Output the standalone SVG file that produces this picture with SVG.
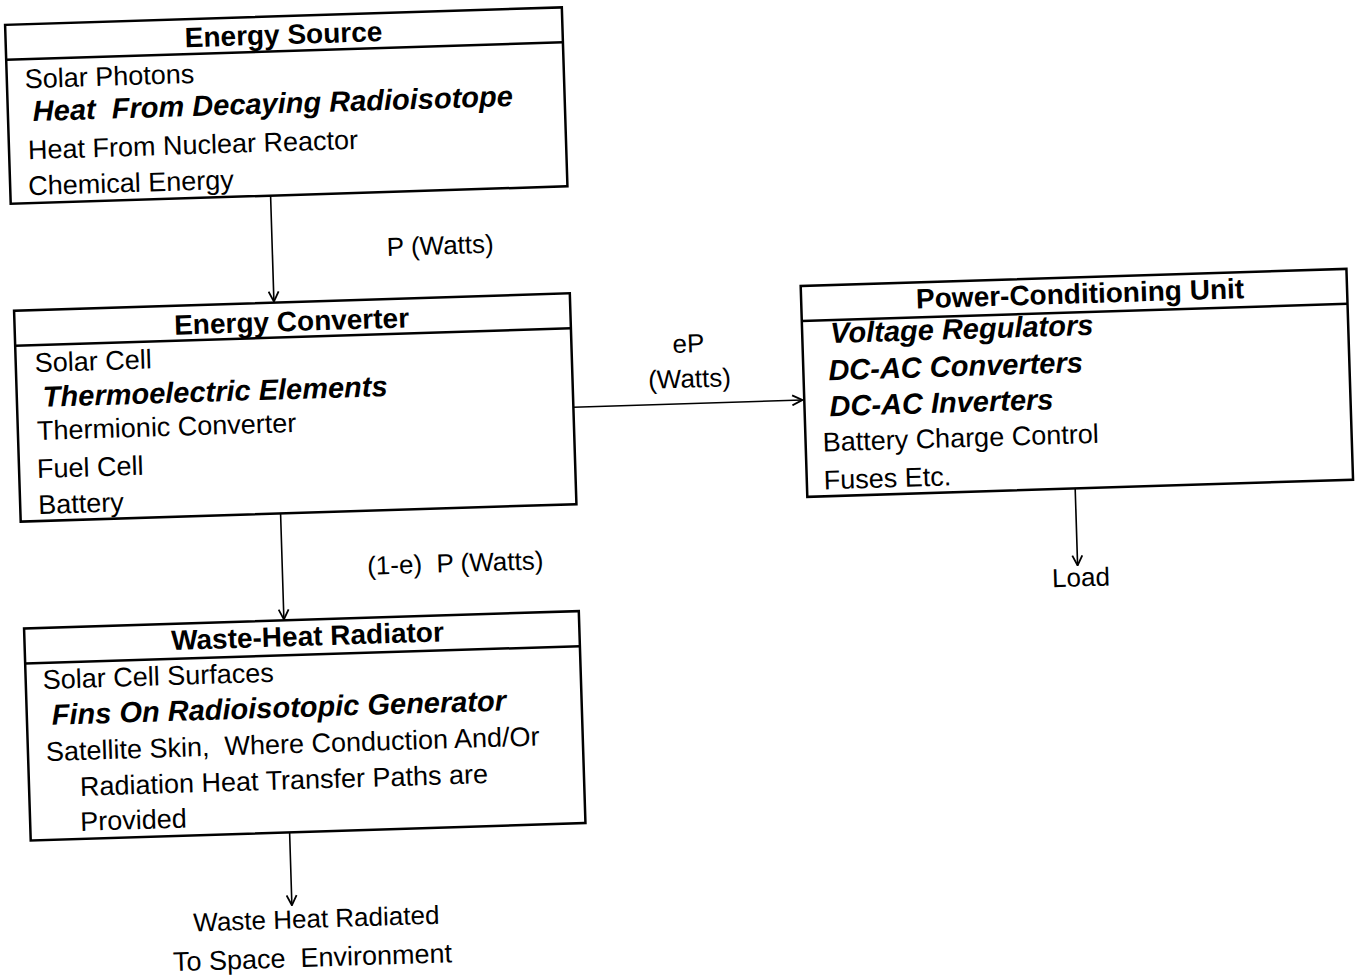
<svg xmlns="http://www.w3.org/2000/svg" width="1355" height="978" viewBox="0 0 1355 978">
<defs>
<style>
.box{fill:#fff;stroke:#000;stroke-width:2.5}
.dv{stroke:#000;stroke-width:2.5}
.t{font-family:"Liberation Sans",Arial,sans-serif;font-size:27px;fill:#000}
.h{font-weight:bold;font-size:28px;text-anchor:middle}
.bi{font-weight:bold;font-style:italic;font-size:29px}
.lb{font-size:26px}
.c{stroke:#000;stroke-width:1.6;fill:none;marker-end:url(#arr)}
</style>
<marker id="arr" viewBox="0 0 12 12" refX="11" refY="6" markerWidth="12" markerHeight="12" markerUnits="userSpaceOnUse" orient="auto">
<path d="M1,1 L11,6 L1,11" fill="none" stroke="#000" stroke-width="1.8"/>
</marker>
</defs>
<rect width="1355" height="978" fill="#fff"/>
<g transform="rotate(-1.8 677 489)">
<g id="connectors">
<line class="c" x1="280" y1="183" x2="280" y2="289"/>
<line class="c" x1="576" y1="404" x2="805" y2="404"/>
<line class="c" x1="280" y1="501" x2="280" y2="607"/>
<line class="c" x1="1075" y1="501" x2="1075" y2="578"/>
<line class="c" x1="279" y1="820" x2="279" y2="893"/>
<text class="t lb" x="448" y="247" text-anchor="middle">P (Watts)</text>
<text class="t lb" x="693" y="353" text-anchor="middle">eP</text>
<text class="t lb" x="693" y="388" text-anchor="middle">(Watts)</text>
<text class="t lb" x="453" y="565" text-anchor="middle" xml:space="preserve">(1-e)  P (Watts)</text>
<text class="t lb" x="1078" y="599" text-anchor="middle">Load</text>
<text class="t lb" x="303" y="916" text-anchor="middle">Waste Heat Radiated</text>
<text class="t" x="298" y="955" text-anchor="middle" xml:space="preserve">To Space  Environment</text>
</g>
<g id="energy-source">
<rect class="box" x="20" y="4" width="557" height="179"/>
<line class="dv" x1="20" y1="39" x2="577" y2="39"/>
<text class="t h" x="298" y="32">Energy Source</text>
<text class="t" x="38" y="68">Solar Photons</text>
<text class="t bi" x="45" y="101" xml:space="preserve">Heat  From Decaying Radioisotope</text>
<text class="t" x="39" y="139">Heat From Nuclear Reactor</text>
<text class="t" x="38" y="175">Chemical Energy</text>
</g>
<g id="energy-converter">
<rect class="box" x="20" y="290" width="556" height="211"/>
<line class="dv" x1="20" y1="325" x2="576" y2="325"/>
<text class="t h" x="297" y="319">Energy Converter</text>
<text class="t" x="39" y="352">Solar Cell</text>
<text class="t bi" x="46" y="387">Thermoelectric Elements</text>
<text class="t" x="39" y="420">Thermionic Converter</text>
<text class="t" x="38" y="458">Fuel Cell</text>
<text class="t" x="38" y="494">Battery</text>
</g>
<g id="power-conditioning-unit">
<rect class="box" x="807" y="290" width="546" height="211"/>
<line class="dv" x1="807" y1="325" x2="1353" y2="325"/>
<text class="t h" x="1086" y="316">Power-Conditioning Unit</text>
<text class="t bi" x="835" y="348">Voltage Regulators</text>
<text class="t bi" x="832" y="385">DC-AC Converters</text>
<text class="t bi" x="832" y="421">DC-AC Inverters</text>
<text class="t" x="824" y="456">Battery Charge Control</text>
<text class="t" x="824" y="494">Fuses Etc.</text>
</g>
<g id="waste-heat-radiator">
<rect class="box" x="20" y="608" width="555" height="212"/>
<line class="dv" x1="20" y1="643" x2="575" y2="643"/>
<text class="t h" x="303" y="634">Waste-Heat Radiator</text>
<text class="t" x="37" y="669">Solar Cell Surfaces</text>
<text class="t bi" x="45" y="705">Fins On Radioisotopic Generator</text>
<text class="t" x="38" y="741" xml:space="preserve">Satellite Skin,  Where Conduction And/Or</text>
<text class="t" x="71" y="777">Radiation Heat Transfer Paths are</text>
<text class="t" x="70" y="812">Provided</text>
</g>
</g>
</svg>
